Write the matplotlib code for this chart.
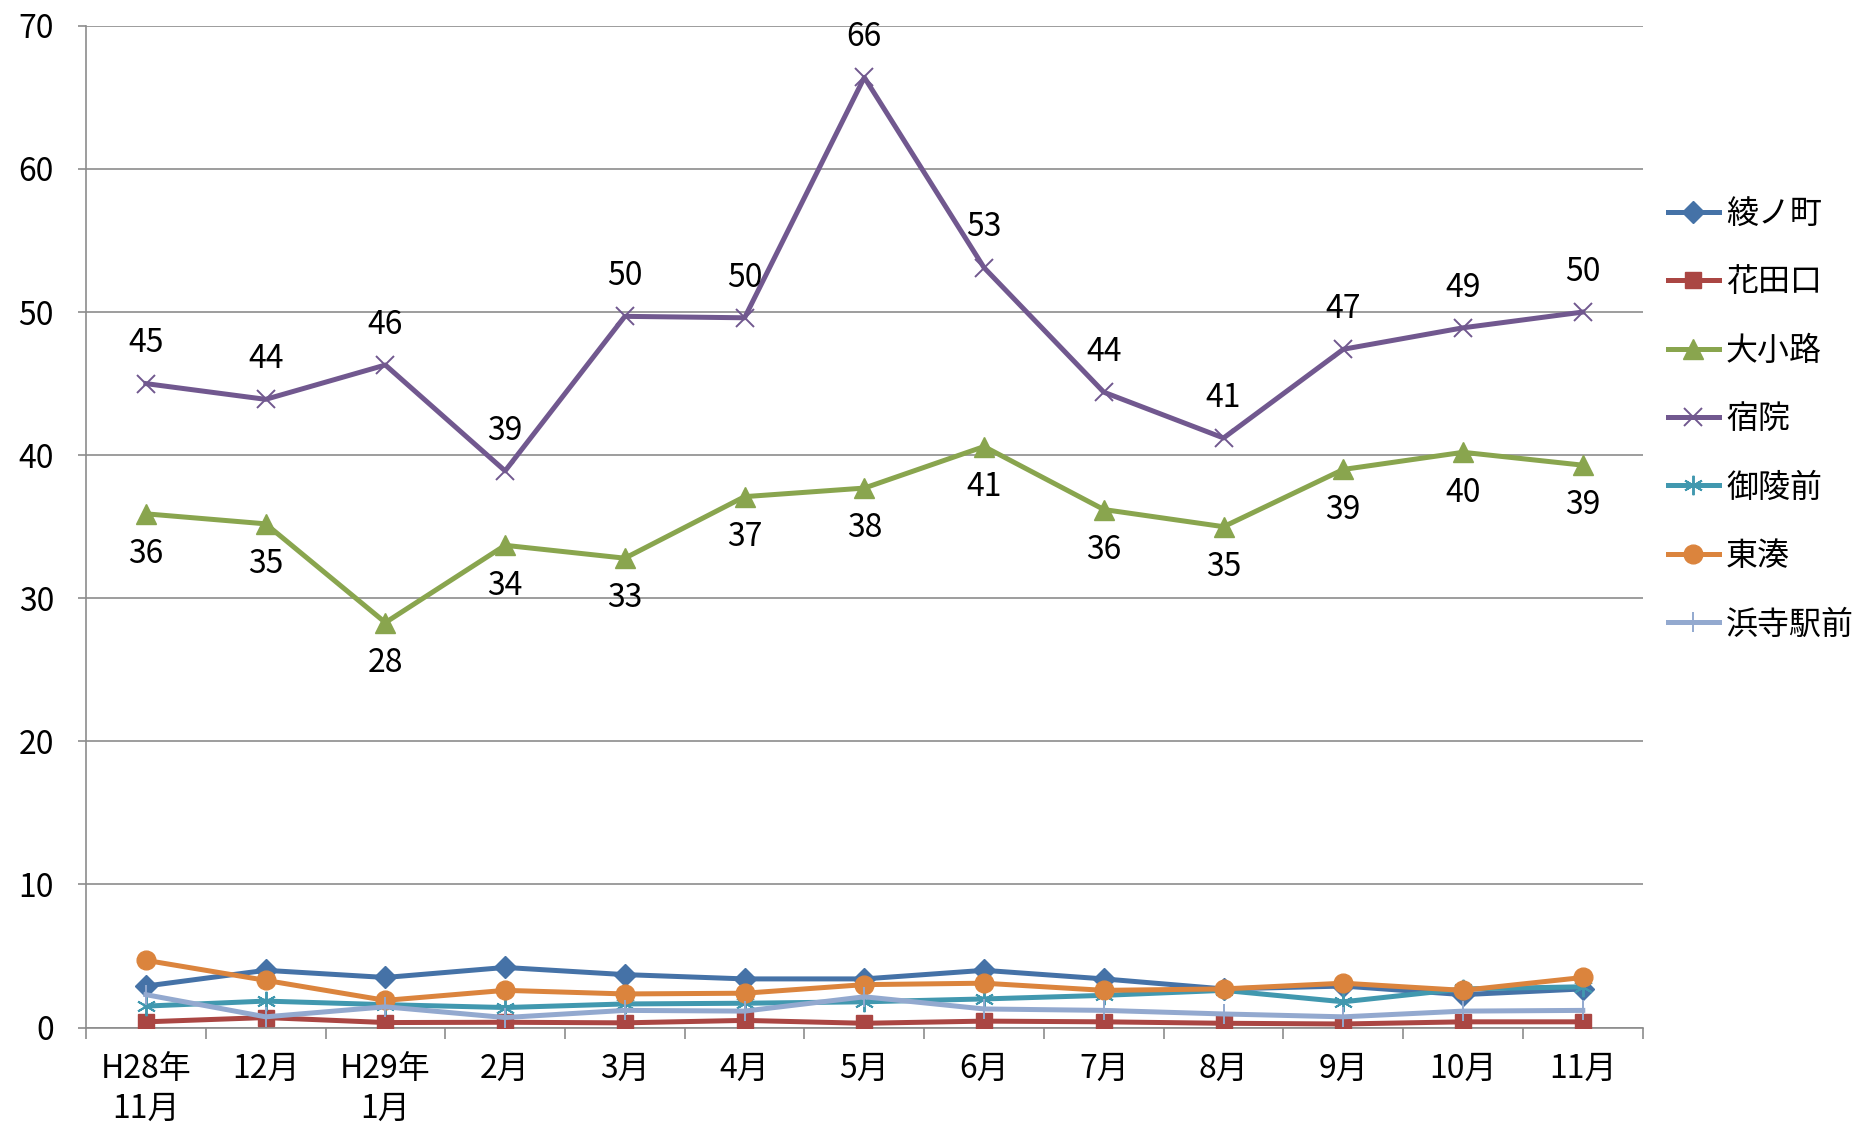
import numpy as np
import matplotlib
matplotlib.use("Agg")
import matplotlib.pyplot as plt
from matplotlib.ticker import MultipleLocator, FixedLocator

plt.rcParams['font.family'] = ['Noto Sans CJK JP', 'DejaVu Sans']

# ===================== ДАННЫЕ =====================

months = ["H28年\n11月", "12月", "H29年\n1月", "2月", "3月", "4月", "5月",
          "6月", "7月", "8月", "9月", "10月", "11月"]

ayanocho = [2.9, 4.0, 3.5, 4.2, 3.7, 3.4, 3.4, 4.0, 3.4, 2.7, 2.9, 2.3, 2.7]
hanadaguchi = [0.4, 0.7, 0.35, 0.37, 0.33, 0.5, 0.3, 0.45, 0.4, 0.3, 0.25, 0.4, 0.4]
oshoji = [35.9, 35.2, 28.3, 33.7, 32.8, 37.1, 37.7, 40.6, 36.2, 35.0, 39.0, 40.2, 39.3]
shukuin = [45.0, 43.9, 46.3, 38.9, 49.7, 49.6, 66.4, 53.1, 44.4, 41.2, 47.4, 48.9, 50.0]
goryomae = [1.5, 1.85, 1.6, 1.4, 1.65, 1.7, 1.8, 2.0, 2.25, 2.6, 1.8, 2.7, 2.85]
higashiminato = [4.7, 3.3, 1.9, 2.6, 2.35, 2.4, 3.0, 3.1, 2.6, 2.7, 3.1, 2.6, 3.5]
hamaderaekimae = [2.3, 0.75, 1.45, 0.7, 1.2, 1.15, 2.15, 1.3, 1.2, 0.95, 0.75, 1.15, 1.2]

series = [
    ("綾ノ町", ayanocho, "#4572A7", "D", 11.5, 1.0),
    ("花田口", hanadaguchi, "#AA4643", "s", 12, 1.0),
    ("大小路", oshoji, "#89A54E", "^", 14, 1.0),
    ("宿院", shukuin, "#71588F", "x", 13, 1.4),
    ("御陵前", goryomae, "#4198AF", (6, 2, 0), 14, 1.4),
    ("東湊", higashiminato, "#DB843D", "o", 13.5, 1.0),
    ("浜寺駅前", hamaderaekimae, "#93A9CF", "|", 15, 1.4),
]

FS = 23

# ===================== ГРАФИК =====================

fig = plt.figure(figsize=(18.54, 11.24), dpi=100)
ax = fig.add_axes([0.0464, 0.0858, 0.8396, 0.8912])

x = np.arange(len(months))
for name, vals, color, marker, ms, mew in series:
    ax.plot(x, vals, color=color, lw=3.6, marker=marker, markersize=ms,
            markeredgewidth=mew, markeredgecolor=color, markerfacecolor=color,
            label=name, zorder=3)

# подписи данных
for xi, v in zip(x, shukuin):
    ax.annotate(f"{v:.0f}", (xi, v), xytext=(0, 29), textcoords="offset points",
                ha="center", va="center", fontsize=FS)
for xi, v in zip(x, oshoji):
    ax.annotate(f"{v:.0f}", (xi, v), xytext=(0, -29), textcoords="offset points",
                ha="center", va="center", fontsize=FS)

ax.set_xlim(-0.5, len(months) - 0.5)
ax.set_ylim(0, 70)
ax.yaxis.set_major_locator(MultipleLocator(10))
ax.grid(axis="y", color="#8c8c8c", lw=1.2, zorder=0)

ax.set_xticks(x)
ax.set_xticklabels(months, fontsize=FS, linespacing=1.33)
ax.xaxis.set_minor_locator(FixedLocator(np.arange(-0.5, len(months), 1.0)))
ax.tick_params(axis="x", which="major", length=0, pad=18)
ax.tick_params(axis="x", which="minor", length=8, width=1.2, color="#8c8c8c")
ax.tick_params(axis="y", length=6, width=1.2, color="#8c8c8c", pad=17, labelsize=FS)

for side in ["top", "right"]:
    ax.spines[side].set_visible(False)
for side in ["left", "bottom"]:
    ax.spines[side].set_color("#8c8c8c")
    ax.spines[side].set_linewidth(1.2)

fig.legend(loc="center left", bbox_to_anchor=(0.891, 0.627), frameon=False,
           fontsize=FS, handlelength=1.6, handletextpad=0.22, labelspacing=1.14,
           borderpad=0)

fig.savefig("out.png", dpi=100)
